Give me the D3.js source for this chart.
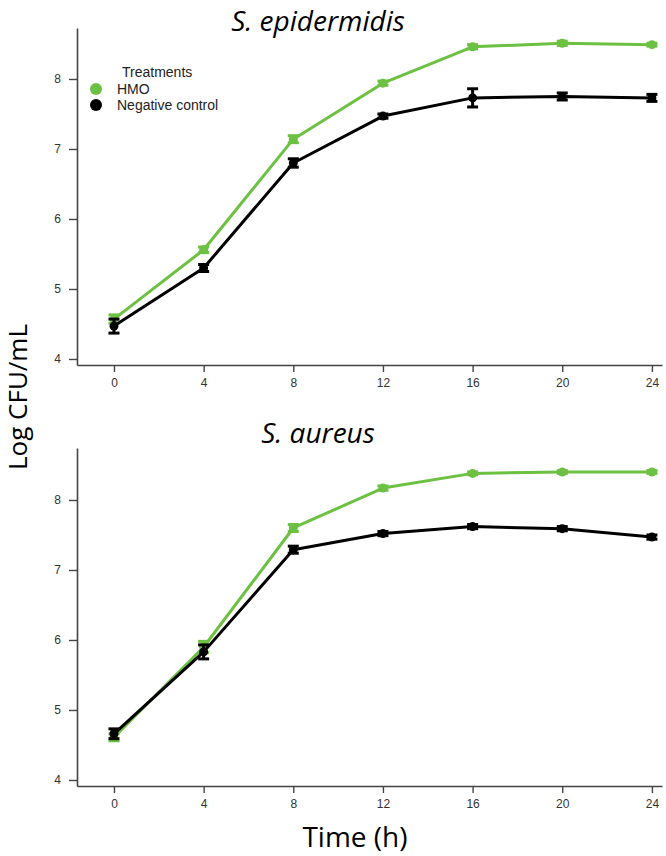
<!DOCTYPE html>
<html>
<head>
<meta charset="utf-8">
<script src="https://cdn.jsdelivr.net/npm/d3@7"></script>
<style>
  body { margin: 0; background: #fff; }
  svg { display: block; }
</style>
</head>
<body>
<script>
// ---- data ----
const times = [0, 4, 8, 12, 16, 20, 24];
const xTicks = [0, 4, 8, 12, 16, 20, 24];
const yTicks = [4, 5, 6, 7, 8];
const seriesNames = ["HMO", "Negative control"];
const seriesColors = ["#6cc142", "#000000"];
const panelTitles = ["S. epidermidis", "S. aureus"];

const epiHMO = [4.57, 5.56, 7.14, 7.94, 8.46, 8.51, 8.49];
const epiHMOErr = [0.06, 0.04, 0.05, 0.03, 0.03, 0.03, 0.02];
const epiNC = [4.47, 5.30, 6.80, 7.47, 7.73, 7.75, 7.73];
const epiNCErr = [0.10, 0.05, 0.06, 0.03, 0.13, 0.05, 0.05];

const aurHMO = [4.61, 5.90, 7.60, 8.17, 8.38, 8.40, 8.40];
const aurHMOErr = [0.05, 0.08, 0.05, 0.03, 0.02, 0.02, 0.02];
const aurNC = [4.66, 5.83, 7.29, 7.52, 7.62, 7.59, 7.47];
const aurNCErr = [0.07, 0.10, 0.05, 0.03, 0.03, 0.03, 0.03];

const panels = [
  { title: panelTitles[0], series: [[epiHMO, epiHMOErr], [epiNC, epiNCErr]], top: 28, bottom: 365, titleY: 31, legend: true },
  { title: panelTitles[1], series: [[aurHMO, aurHMOErr], [aurNC, aurNCErr]], top: 448, bottom: 786, titleY: 443, legend: false }
];

const W = 666, H = 856;
const svg = d3.select("body").append("svg").attr("width", W).attr("height", H);

const axisLeftX = 77, axisRightX = 662;
const x = d3.scaleLinear().domain([-1.65, 24.45]).range([axisLeftX, axisRightX]);

panels.forEach(p => {
  const y = d3.scaleLinear().domain([3.914, 3.914 + (p.bottom - p.top) / 70]).range([p.bottom, p.top]);
  const g = svg.append("g");

  // axes
  const xAxis = g.append("g").attr("transform", `translate(0,${p.bottom})`)
    .call(d3.axisBottom(x).tickValues(xTicks).tickFormat(d3.format("d")).tickSize(7).tickPadding(6).tickSizeOuter(0));
  const yAxis = g.append("g").attr("transform", `translate(${axisLeftX},0)`)
    .call(d3.axisLeft(y).tickValues(yTicks).tickFormat(d3.format("d")).tickSize(8).tickPadding(8).tickSizeOuter(0));
  [xAxis, yAxis].forEach(a => {
    a.select(".domain").attr("stroke", "#444").attr("stroke-width", 1.6);
    a.selectAll(".tick line").attr("stroke", "#444").attr("stroke-width", 1.4);
    a.selectAll(".tick text").attr("fill", "#333").style("font-family", "Liberation Sans, Arial, sans-serif").style("font-size", "12px");
  });

  // series
  p.series.forEach((s, si) => {
    const [vals, errs] = s;
    const col = seriesColors[si];
    const pts = times.map((t, i) => ({ t, v: vals[i], e: errs[i] }));
    g.append("path").datum(pts)
      .attr("fill", "none").attr("stroke", col).attr("stroke-width", 3)
      .attr("stroke-linejoin", "round")
      .attr("d", d3.line().x(d => x(d.t)).y(d => y(d.v)));
    const eb = g.append("g").selectAll("g").data(pts).join("g");
    eb.append("line")
      .attr("x1", d => x(d.t)).attr("x2", d => x(d.t))
      .attr("y1", d => y(d.v - d.e)).attr("y2", d => y(d.v + d.e))
      .attr("stroke", col).attr("stroke-width", 3);
    eb.append("line")
      .attr("x1", d => x(d.t) - 5.5).attr("x2", d => x(d.t) + 5.5)
      .attr("y1", d => y(d.v + d.e)).attr("y2", d => y(d.v + d.e))
      .attr("stroke", col).attr("stroke-width", 3);
    eb.append("line")
      .attr("x1", d => x(d.t) - 5.5).attr("x2", d => x(d.t) + 5.5)
      .attr("y1", d => y(d.v - d.e)).attr("y2", d => y(d.v - d.e))
      .attr("stroke", col).attr("stroke-width", 3);
    eb.append("circle")
      .attr("cx", d => x(d.t)).attr("cy", d => y(d.v)).attr("r", 4.5).attr("fill", col);
  });

  // title
  svg.append("text")
    .attr("x", 318).attr("y", p.titleY)
    .attr("text-anchor", "middle")
    .style("font-family", "Open Sans, sans-serif")
    .style("font-style", "italic")
    .style("font-size", "28px")
    .attr("fill", "#000")
    .text(p.title);

  if (p.legend) {
    const lg = svg.append("g");
    lg.append("text").attr("x", 122).attr("y", 72).attr("dy", "0.35em")
      .style("font-family", "Liberation Sans, Arial, sans-serif").style("font-size", "14px").attr("fill", "#222")
      .text("Treatments");
    seriesNames.forEach((n, i) => {
      const cy = 89 + i * 16;
      lg.append("circle").attr("cx", 96).attr("cy", cy).attr("r", 6).attr("fill", seriesColors[i]);
      lg.append("text").attr("x", 117).attr("y", cy).attr("dy", "0.35em")
        .style("font-family", "Liberation Sans, Arial, sans-serif").style("font-size", "14px").attr("fill", "#222")
        .text(n);
    });
  }
});

// axis titles
svg.append("text")
  .attr("transform", "translate(27,397) rotate(-90)")
  .attr("text-anchor", "middle")
  .style("font-family", "Open Sans, sans-serif")
  .style("font-size", "26px")
  .attr("fill", "#000")
  .text("Log CFU/mL");

svg.append("text")
  .attr("x", 355).attr("y", 847)
  .attr("text-anchor", "middle")
  .style("font-family", "Open Sans, sans-serif")
  .style("font-size", "28px")
  .attr("fill", "#000")
  .text("Time (h)");
</script>
</body>
</html>
